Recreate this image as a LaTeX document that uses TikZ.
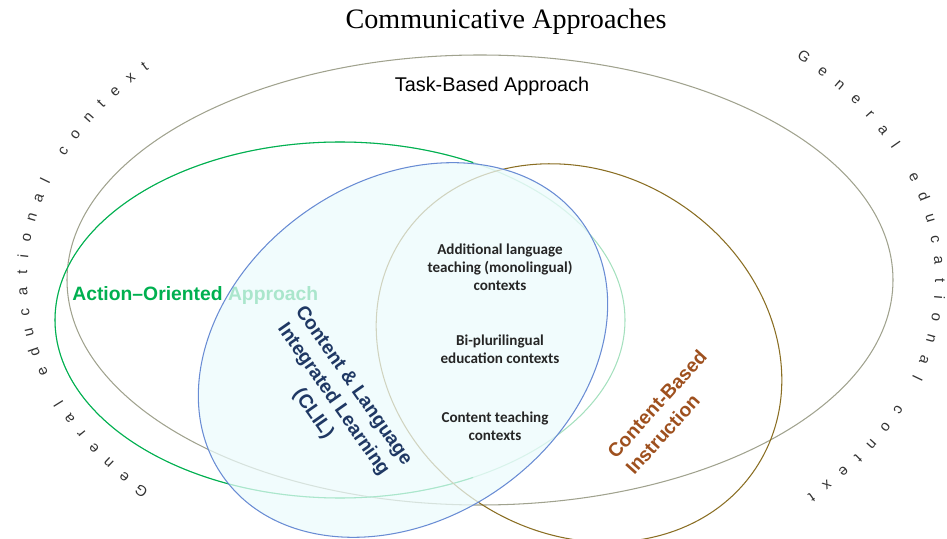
\documentclass[tikz,border=0pt]{standalone}
\usepackage{fontspec}
\setmainfont{Liberation Sans}
\newfontfamily\titlefont{Liberation Serif}
\newfontfamily\ctxfont{Carlito}
\usetikzlibrary{decorations.text}

\definecolor{taskgrey}{RGB}{160,162,142}
\definecolor{actiongreen}{RGB}{0,176,80}
\definecolor{actionpale}{RGB}{165,224,190}
\definecolor{clilblue}{RGB}{105,140,212}
\definecolor{clilfill}{RGB}{236,251,252}
\definecolor{clilnavy}{RGB}{31,56,100}
\definecolor{cbibrown}{RGB}{138,110,35}
\definecolor{cbitext}{RGB}{158,80,30}

\begin{document}
\begin{tikzpicture}[x=0.02cm, y=0.02cm,
    ring/.style={line width=0.6pt},
    bigLabel/.style={font=\fontsize{11}{14}\selectfont\bfseries, inner sep=0pt},
    ctxText/.style={font=\ctxfont\bfseries\fontsize{8.6}{10.3}\selectfont, align=center, text=black!85},
    wrapText/.style={decorate, decoration={text along path, text align={fit to path}, text color=black!80,
        text={|\fontsize{8.5}{10}\selectfont|General educational context}}}]
  \useasboundingbox (0,0) rectangle (947,538);  % canvas

  % ellipse centres
  \coordinate (taskC) at (480,258);  % task-based
  \coordinate (actC) at (340,218);  % action-oriented
  \coordinate (clilC) at (403,188);  % CLIL
  \coordinate (cbiC) at (579,185);  % content-based

  % task-based approach
  \draw[ring, taskgrey] (taskC) ellipse [x radius=413, y radius=225];  % outer ellipse
  \node (taskLabel) at (492,452) {\fontsize{11.3}{13}\selectfont Task-Based Approach};  % label

  % action-oriented approach
  \draw[ring, actionpale] (actC) ellipse [x radius=285, y radius=178];  % faded right part
  \begin{scope}
    \clip (0,0) rectangle (473,538);
    \draw[ring, actiongreen] (actC) ellipse [x radius=285, y radius=178];  % strong left part
  \end{scope}
  \node[bigLabel, text=actiongreen, anchor=west] (actLabel) at (72,242) {Action–Oriented Approach};  % label

  % content-based instruction
  \draw[ring, cbibrown, rotate around={-32:(cbiC)}] (cbiC) ellipse [x radius=211, y radius=180];  % ellipse

  % CLIL, laid over the others
  \fill[clilfill, fill opacity=0.72, rotate around={35:(clilC)}] (clilC) ellipse [x radius=220, y radius=169];  % pale fill
  \draw[ring, clilblue, rotate around={35:(clilC)}] (clilC) ellipse [x radius=220, y radius=169];  % outline

  % slanted labels
  \node[bigLabel, text=clilnavy, align=center, rotate=-55] (clilLabel) at (333,138) {Content \& Language\\Integrated Learning\\(CLIL)};
  \node[bigLabel, text=cbitext, align=left, rotate=48] (cbiLabel) at (666,126) {Content-Based\\Instruction};

  % contexts in the middle
  \node[ctxText] (monoCtx) at (500,271) {Additional language\\teaching (monolingual)\\contexts};
  \node[ctxText] (biCtx) at (500,189) {Bi-plurilingual\\education contexts};
  \node[ctxText] (contentCtx) at (495,112) {Content teaching\\contexts};

  % title
  \node[font=\titlefont\fontsize{16}{18}\selectfont] (title) at (506,516) {Communicative Approaches};

  % curved text round the picture
  \path[wrapText] (481,258) ++(223:454 and 309) arc [start angle=223, end angle=137, x radius=454, y radius=309];  % left
  \path[wrapText] (481,258) ++(46:454 and 309) arc [start angle=46, end angle=-44, x radius=454, y radius=309];  % right
\end{tikzpicture}
\end{document}
